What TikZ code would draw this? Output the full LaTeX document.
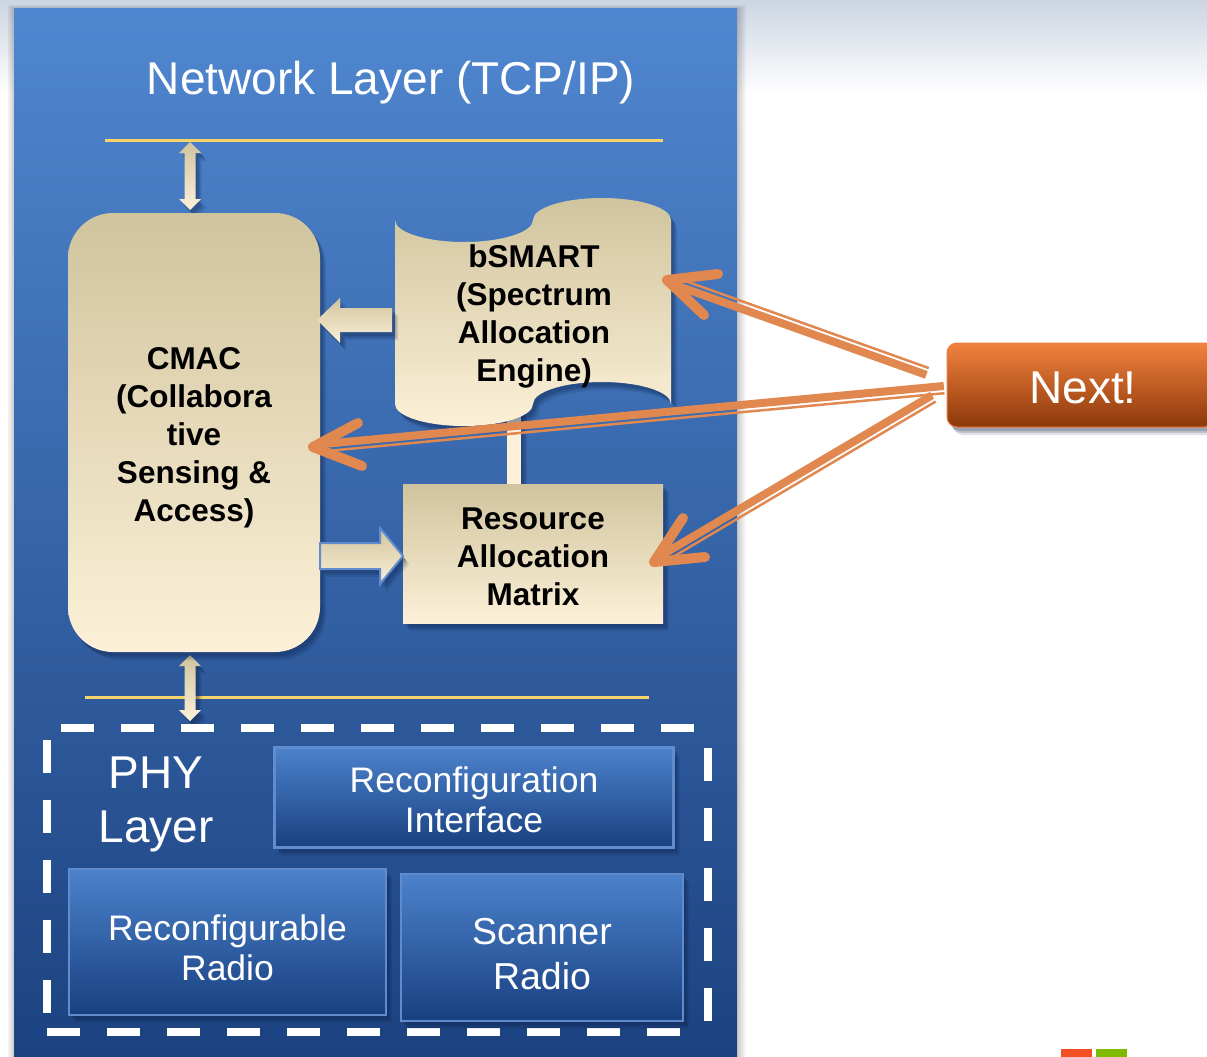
\documentclass[tikz,border=0pt]{standalone}
\usepackage{fontspec}
\setmainfont{Liberation Sans}
\usetikzlibrary{calc,shadows}
\definecolor{panTop}{RGB}{80,135,208}
\definecolor{panMid}{RGB}{46,96,166}
\definecolor{panBot}{RGB}{28,66,128}
\definecolor{creamTop}{RGB}{208,196,158}
\definecolor{creamMid}{RGB}{242,234,212}
\definecolor{creamBot}{RGB}{252,240,216}
\definecolor{phyTop}{RGB}{76,130,204}
\definecolor{phyBot}{RGB}{24,64,128}
\definecolor{phyEdge}{RGB}{96,140,205}
\definecolor{orng}{RGB}{224,136,80}
\definecolor{nextTop}{RGB}{242,130,62}
\definecolor{nextBot}{RGB}{140,56,10}
\definecolor{nextEdge}{RGB}{236,126,66}
\definecolor{yel}{RGB}{246,212,106}
\definecolor{bgTop}{RGB}{204,213,226}
\definecolor{shadowBlue}{RGB}{10,30,70}
\definecolor{msOrange}{RGB}{242,80,34}
\definecolor{msGreen}{RGB}{127,186,0}
\begin{document}
\begin{tikzpicture}[x=1pt,y=-1pt,
  softshadow/.style={
    drop shadow={shadow xshift=6pt,shadow yshift=-8pt,opacity=0.12,fill=shadowBlue},
    drop shadow={shadow xshift=4.5pt,shadow yshift=-6pt,opacity=0.16,fill=shadowBlue},
    drop shadow={shadow xshift=3pt,shadow yshift=-4pt,opacity=0.2,fill=shadowBlue}},
  creambox/.style={top color=creamTop,bottom color=creamBot,softshadow,align=center,
    font=\bfseries\fontsize{31.5}{38}\selectfont,text=black,inner sep=0pt},
  phybox/.style={draw=phyEdge,line width=2.5pt,top color=phyTop,bottom color=phyBot,softshadow,
    align=center,text=white,inner sep=0pt},
  whitetext/.style={text=white,align=center,inner sep=0pt},
  yline/.style={yel,line width=3pt},
  dashline/.style={white,line width=8pt,dash pattern=on 33pt off 27pt},
  blockarrow/.style={top color=creamTop,bottom color=creamBot,softshadow},
  thickshaft/.style={orng,line width=8pt,shorten >=4pt},
  thinshaft/.style={orng,line width=2.5pt,shorten >=8pt},
  arrowhead/.style={orng,line width=10pt,line cap=round,line join=round}
]
\useasboundingbox (0,0) rectangle (1207,1057);
\clip (0,0) rectangle (1207,1057);
\fill[white] (0,0) rectangle (1207,1057);
\shade[top color=bgTop,bottom color=white] (0,0) rectangle (1207,95);

% panel halo and panel
\foreach \i in {1,...,8}
  \fill[black,opacity=0.025] (14-0.8*\i,9-0.5*\i) rectangle (738+\i,1060);
\shade[top color=panTop,middle color=panMid,bottom color=panBot] (14,9) rectangle (737,1057);

% title
\node[whitetext,font=\fontsize{46}{55}\selectfont] (title) at (391,83) {Network Layer (TCP/IP)};

% yellow layer lines
\draw[yline] (105,140) -- (663,140);
\draw[yline] (85,697) -- (649,697);

% double arrows
\shade[blockarrow] (190,142) -- (201,153) -- (195.5,153) -- (195.5,199) -- (201,199) -- (190,210)
  -- (179,199) -- (184.5,199) -- (184.5,153) -- (179,153) -- cycle;
\shade[blockarrow] (190,655) -- (201,666) -- (195.5,666) -- (195.5,710) -- (201,710) -- (190,721)
  -- (179,710) -- (184.5,710) -- (184.5,666) -- (179,666) -- cycle;

% connector bSMART - Resource matrix
\fill[creamBot,softshadow] (507,400) rectangle (521,486);

% CMAC
\node[creambox,rounded corners=45pt,minimum width=252pt,minimum height=439pt] (cmac) at (194,432.5) {};
\node[align=center,font=\bfseries\fontsize{31.5}{38}\selectfont,inner sep=0pt] (cmactext) at (194,437.5)
  {CMAC\\(Collabora\\tive\\Sensing \&\\Access)};

% bSMART punched-tape shape
\shade[top color=creamTop,middle color=creamMid,bottom color=creamBot,softshadow]
  (395,220) arc[start angle=180,end angle=360,x radius=69pt,y radius=22pt]
            arc[start angle=180,end angle=0,x radius=69pt,y radius=22pt]
  -- (671,404) arc[start angle=0,end angle=180,x radius=69pt,y radius=22pt]
              arc[start angle=0,end angle=-180,x radius=69pt,y radius=22pt]
  -- cycle;
\node[align=center,font=\bfseries\fontsize{31.5}{38}\selectfont,inner sep=0pt] (bsmart) at (534,316)
  {bSMART\\(Spectrum\\Allocation\\Engine)};

% Resource Allocation Matrix
\node[creambox,minimum width=260pt,minimum height=139pt] (ram) at (533,553.5) {};
\node[align=center,font=\bfseries\fontsize{31.5}{38}\selectfont,inner sep=0pt] (ramtext) at (533,556.5)
  {Resource\\Allocation\\Matrix};

% block arrows
\shade[blockarrow] (392,308) -- (340,308) -- (340,298) -- (317,320) -- (340,343) -- (340,332) -- (392,332) -- cycle;
\shade[blockarrow,draw=phyEdge,line width=2pt] (320,543) -- (380,543) -- (380,528) -- (403,556) -- (380,584) -- (380,569) -- (320,569) -- cycle;

% PHY layer
\draw[dashline] (61,728) -- (702,728);
\draw[dashline] (47,1032) -- (688,1032);
\draw[dashline] (47,740) -- (47,1018);
\draw[dashline] (708,748) -- (708,1026);
\node[whitetext,font=\fontsize{46}{54}\selectfont] (phy) at (156,804) {PHY\\Layer};
\node[phybox,minimum width=399pt,minimum height=100pt] (rif) at (474,797.5) {};
\node[whitetext,font=\fontsize{35.5}{40}\selectfont] (riftext) at (474,800) {Reconfiguration\\Interface};
\node[phybox,minimum width=317pt,minimum height=146pt] (rr) at (227.5,942) {};
\node[whitetext,font=\fontsize{35.5}{40}\selectfont] (rrtext) at (227.5,948) {Reconfigurable\\Radio};
\node[phybox,minimum width=282pt,minimum height=147pt] (sr) at (542,947.5) {};
\node[whitetext,font=\fontsize{37.5}{45}\selectfont] (srtext) at (542,954) {Scanner\\Radio};

% Next! button
\node[draw=nextEdge,line width=1pt,rounded corners=10pt,top color=nextTop,bottom color=nextBot,
  softshadow,minimum width=268pt,minimum height=84pt] (next) at (1081,385) {};
\node[whitetext,font=\fontsize{46}{55}\selectfont] (nexttext) at (1083,388) {Next!};

% orange arrows from Next!
\coordinate (uS) at (927,373);  \coordinate (uT) at (667,280);
\coordinate (uA) at (718,274);  \coordinate (uB) at (704,315);
\coordinate (mS) at (944,388);  \coordinate (mT) at (313,447);
\coordinate (mA) at (358,423);  \coordinate (mB) at (362,466);
\coordinate (lS) at (933,397);  \coordinate (lT) at (654,562);
\coordinate (lA) at (683,518);  \coordinate (lB) at (705,557);

% upper (thin line on upper side)
\draw[thickshaft] ($(uS)!2pt!90:(uT)$) -- ($(uT)!2pt!-90:(uS)$);
\draw[thinshaft] ($(uS)!5.25pt!-90:(uT)$) -- ($(uT)!5.25pt!90:(uS)$);
\draw[arrowhead] (uA) -- (uT) -- (uB);
% middle (thin line below)
\draw[thickshaft] ($(mS)!2pt!-90:(mT)$) -- ($(mT)!2pt!90:(mS)$);
\draw[thinshaft] ($(mS)!5.25pt!90:(mT)$) -- ($(mT)!5.25pt!-90:(mS)$);
\draw[arrowhead] (mA) -- (mT) -- (mB);
% lower (thin line on lower right side)
\draw[thickshaft] ($(lS)!2pt!-90:(lT)$) -- ($(lT)!2pt!90:(lS)$);
\draw[thinshaft] ($(lS)!5.25pt!90:(lT)$) -- ($(lT)!5.25pt!-90:(lS)$);
\draw[arrowhead] (lA) -- (lT) -- (lB);

% logo squares
\fill[msOrange] (1061,1049) rectangle (1092,1057);
\fill[msGreen] (1096,1049) rectangle (1127,1057);
\end{tikzpicture}
\end{document}
